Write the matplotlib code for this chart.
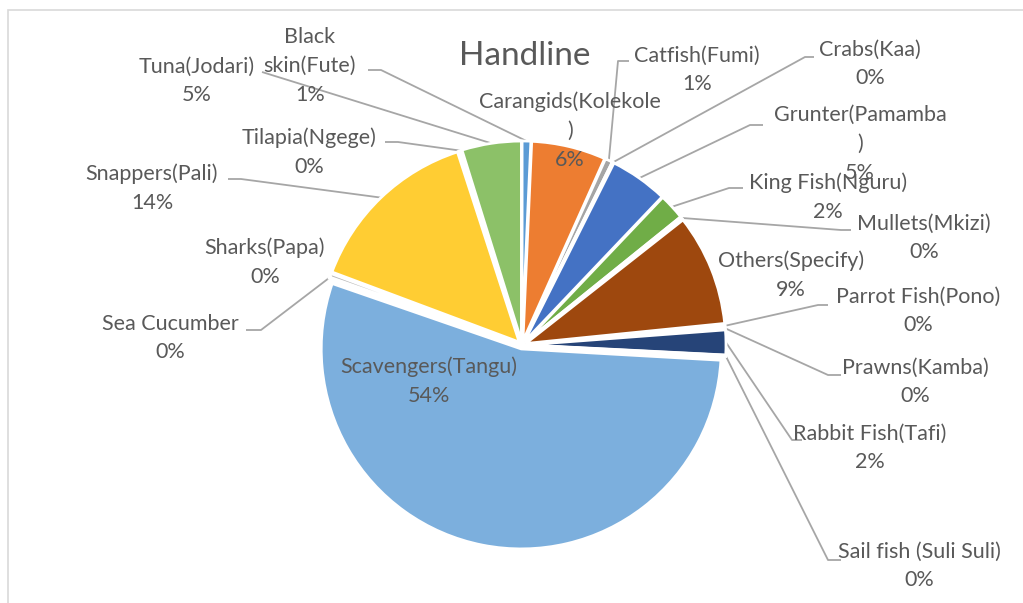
#!usr/bin/env python3

import matplotlib
matplotlib.use("Agg")
import matplotlib.pyplot as plt
from matplotlib.patches import Rectangle
import math

# Catch share by species group, handline gear (percent of total)
species = ["Black\nskin(Fute)", "Carangids(Kolekole\n)", "Catfish(Fumi)", "Crabs(Kaa)",
           "Grunter(Pamamba\n)", "King Fish(Nguru)", "Mullets(Mkizi)", "Others(Specify)",
           "Parrot Fish(Pono)", "Prawns(Kamba)", "Rabbit Fish(Tafi)", "Sail fish (Suli Suli)",
           "Scavengers(Tangu)", "Sea Cucumber", "Sharks(Papa)", "Snappers(Pali)",
           "Tilapia(Ngege)", "Tuna(Jodari)"]
share = [0.7, 6.0, 0.6, 0.1,
         4.7, 2.1, 0.2, 9.0,
         0.2, 0.2, 2.0, 0.1,
         54.4, 0.1, 0.3, 14.3,
         0.2, 4.8]

# Office palette, in series order
colors = ["#5B9BD5", "#ED7D31", "#A5A5A5", "#FFC000", "#4472C4", "#70AD47",
          "#255E91", "#9E480E", "#636363", "#997300", "#264478", "#43682B",
          "#7CAFDD", "#F1975A", "#B7B7B7", "#FFCD33", "#698ED0", "#8CC168"]

W, H = 1023, 603
TXT = "#595959"
LEAD = "#A6A6A6"
FONT = "Lato"

# label centre (x, y) in pixels from top-left, plus leader start and elbow
# (None means the label sits next to its slice without a leader)
layout = {
    "Black\nskin(Fute)":        ((310, 66),  (368, 70),  (381, 70)),
    "Carangids(Kolekole\n)":    ((570, 131), None, None),
    "Catfish(Fumi)":            ((697, 70),  (629, 61),  (618, 61)),
    "Crabs(Kaa)":               ((870, 64),  (814, 57),  (805, 57)),
    "Grunter(Pamamba\n)":       ((860, 144), (763, 125), (750, 125)),
    "King Fish(Nguru)":         ((828, 197), (743, 188), (729, 188)),
    "Mullets(Mkizi)":           ((924, 238), (851, 230), (841, 230)),
    "Others(Specify)":          ((791, 275), None, None),
    "Parrot Fish(Pono)":        ((918, 311), (828, 305), (818, 305)),
    "Prawns(Kamba)":            ((915, 382), (841, 375), (828, 375)),
    "Rabbit Fish(Tafi)":        ((870, 448), (802, 440), (792, 440)),
    "Sail fish (Suli Suli)":    ((919, 566), (841, 560), (828, 560)),
    "Scavengers(Tangu)":        ((429, 381), None, None),
    "Sea Cucumber":             ((170, 338), (246, 330), (261, 330)),
    "Sharks(Papa)":             ((265, 262), None, None),
    "Snappers(Pali)":           ((152, 188), (228, 179), (241, 179)),
    "Tilapia(Ngege)":           ((309, 152), (385, 142), (398, 142)),
    "Tuna(Jodari)":             ((197, 81),  (262, 72),  (262, 72)),
}

def up(p):
    # pixel row -> axes y (y axis points up)
    return (p[0], H - p[1])

fig = plt.figure(figsize=(W / 100, H / 100), dpi=100)
ax = fig.add_axes([0, 0, 1, 1])

wedges, _ = ax.pie(share, colors=colors, startangle=90, counterclock=False,
                   center=(522, H - 345), radius=200, explode=[4] * len(share),
                   wedgeprops=dict(edgecolor="white", linewidth=2.0))

ax.set_xlim(0, W)
ax.set_ylim(0, H)
ax.set_aspect("equal")
ax.axis("off")

# chart area border
ax.add_patch(Rectangle((8, -20), W + 20, H - 10 + 20, fill=False,
                       edgecolor="#D9D9D9", linewidth=1.2))

ax.text(525, H - 56, "Handline", ha="center", va="center", fontsize=24,
        color=TXT, family=FONT)

for name, val, w in zip(species, share, wedges):
    (lx, ly), start, elbow = layout[name]
    ax.text(lx, H - ly, "{}\n{:.0f}%".format(name, val), ha="center", va="center",
            fontsize=15.5, color=TXT, family=FONT, linespacing=1.55)
    if start is None:
        continue
    mid = math.radians((w.theta1 + w.theta2) / 2)
    cx, cy = w.center
    tip = (cx + w.r * math.cos(mid), cy + w.r * math.sin(mid))
    s, e = up(start), up(elbow)
    ax.plot([s[0], e[0], tip[0]], [s[1], e[1], tip[1]], color=LEAD, lw=1.3,
            solid_capstyle="butt", zorder=0.5)

fig.savefig("out.png", dpi=100)
